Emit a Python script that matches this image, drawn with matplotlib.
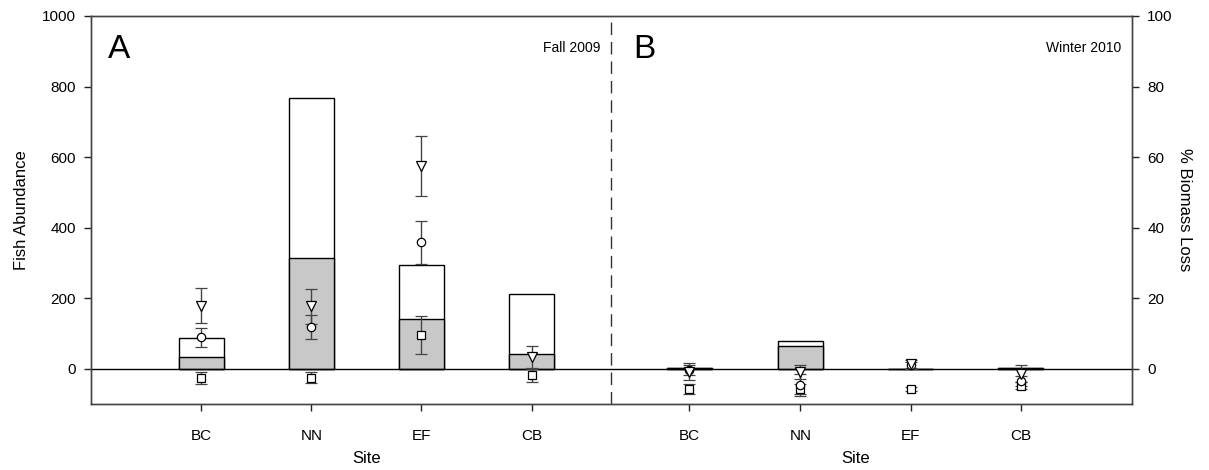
import numpy as np
import matplotlib.pyplot as plt

plt.rcParams['font.family'] = ['Liberation Sans', 'DejaVu Sans']

#%%
# Data: fish abundance (bars) and % biomass loss (markers) per site
sites = ['BC', 'NN', 'EF', 'CB']
x_fall = [1.0, 2.0, 3.0, 4.0]
x_winter = [5.43, 6.44, 7.44, 8.44]

# total abundance and the shaded (lower) part of each bar
fall_total = [88, 768, 294, 211]
fall_shaded = [32, 315, 140, 42]
winter_total = [3, 78, 0.5, 2.5]
winter_shaded = [2, 65, 0.3, 1.5]

# % biomass loss, mean and error
fall_tri = [17.9, 17.7, 57.5, 3.2]
fall_tri_err = [5.0, 5.0, 8.5, 3.2]
fall_circ = [8.9, 11.8, 35.8, np.nan]
fall_circ_err = [2.6, 3.5, 6.2, np.nan]
fall_sq = [-2.6, -2.5, 9.6, -1.8]
fall_sq_err = [1.7, 1.6, 5.3, 1.9]

winter_tri = [-0.8, -1.0, 1.3, -1.4]
winter_tri_err = [2.3, 2.0, 1.2, 2.5]
winter_circ = [-0.4, -4.6, 1.0, -3.5]
winter_circ_err = [1.5, 3.0, 1.0, 1.5]
winter_sq = [-5.8, -5.8, -5.8, -4.8]
winter_sq_err = [1.5, 1.5, 0.6, 1.0]

#%%
fig = plt.figure(figsize=(12.09, 4.70), dpi=100)
ax = fig.add_axes([0.0753, 0.1404, 0.861, 0.8256])
ax2 = ax.twinx()

spine_col = '#444444'
bar_w = 0.41

for xs, tot, sh in [(x_fall, fall_total, fall_shaded),
                    (x_winter, winter_total, winter_shaded)]:
    ax.bar(xs, tot, width=bar_w, color='white', edgecolor='black', linewidth=1.0, zorder=2)
    ax.bar(xs, sh, width=bar_w, color='#c8c8c8', edgecolor='black', linewidth=1.0, zorder=3)

ax.axhline(0, color='black', linewidth=1.0, zorder=4)
ax.axvline(4.72, color='#333333', linewidth=1.0, dashes=(9, 5), zorder=1)

ax.set_xlim(0, 9.45)
ax.set_ylim(-100, 1000)
ax.set_yticks([0, 200, 400, 600, 800, 1000])
ax.set_xticks(x_fall + x_winter)
ax.set_xticklabels(sites + sites)
ax.set_ylabel('Fish Abundance', fontsize=12, labelpad=9)

# markers with error bars on the right axis
mk = dict(mfc='white', mec='black', mew=0.9, ecolor='#444444', elinewidth=1.0,
          capsize=4, capthick=1.0, linestyle='none', zorder=5)
xs_all = x_fall + x_winter
ax2.errorbar(xs_all, fall_sq + winter_sq, yerr=fall_sq_err + winter_sq_err,
             marker='s', markersize=5.5, **mk)
ax2.errorbar(xs_all, fall_circ + winter_circ, yerr=fall_circ_err + winter_circ_err,
             marker='o', markersize=6, **mk)
ax2.errorbar(xs_all, fall_tri + winter_tri, yerr=fall_tri_err + winter_tri_err,
             marker='v', markersize=7.5, **mk)

ax2.set_ylim(-10, 100)
ax2.set_yticks([0, 20, 40, 60, 80, 100])
ax2.set_ylabel('% Biomass Loss', fontsize=12, rotation=270, labelpad=14)

for a in (ax, ax2):
    for s in a.spines.values():
        s.set_color(spine_col)
        s.set_linewidth(1.0)
    a.tick_params(direction='out', length=5, width=1.0, color='#222222',
                  labelsize=11, pad=6)
ax.tick_params(axis='x', pad=13)

# panel letters, season labels and x labels
ax.text(0.15, 905, 'A', fontsize=24, va='center', ha='left')
ax.text(4.62, 910, 'Fall 2009', fontsize=10, va='center', ha='right')
ax.text(4.92, 905, 'B', fontsize=24, va='center', ha='left')
ax.text(9.35, 910, 'Winter 2010', fontsize=10, va='center', ha='right')
for xs in (x_fall, x_winter):
    ax.text(np.mean(xs), -0.14, 'Site', fontsize=12, ha='center', va='center',
            transform=ax.get_xaxis_transform())

plt.savefig('out.png', dpi=100)
